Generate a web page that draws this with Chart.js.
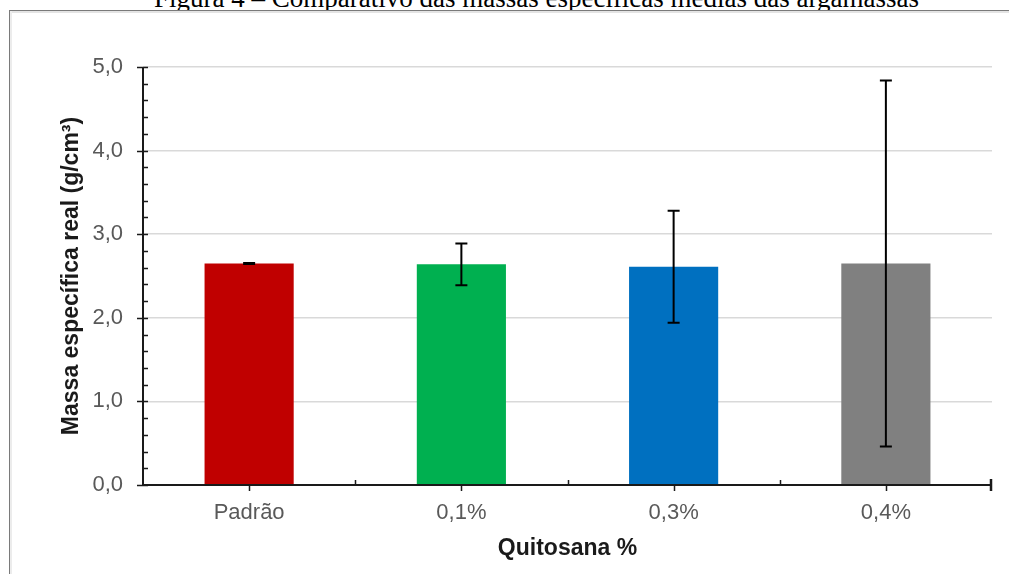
<!DOCTYPE html>
<html lang="pt">
<head>
<meta charset="utf-8">
<title>Massa específica real</title>
<script src="https://cdn.jsdelivr.net/npm/chart.js@4/dist/chart.umd.min.js"></script>
<style>
  html, body { margin: 0; padding: 0; background: #fff; overflow: hidden; }
  #wrap { position: relative; width: 1009px; height: 574px; overflow: hidden; }
  #caption {
    position: absolute; left: 64px; width: 945px; top: -17px;
    text-align: center; font-family: "Liberation Serif", "Times New Roman", serif;
    font-size: 27px; color: #000; white-space: nowrap; line-height: 30px;
  }
  #frameTop { position: absolute; left: 9px; top: 10px; width: 1000px; height: 1px; background: #7a7a7a; }
  #frameTopShade { position: absolute; left: 10px; top: 11px; width: 999px; height: 2px; background: #e4e4e4; }
  #frameLeft { position: absolute; left: 9px; top: 10px; width: 1px; height: 564px; background: #7a7a7a; }
  #frameLeftShade { position: absolute; left: 10px; top: 11px; width: 2px; height: 563px; background: #ececec; }
  #chartBox { position: absolute; left: 0; top: 0; width: 1009px; height: 574px; }
</style>
</head>
<body>
<div id="wrap">
  <div id="caption">Figura 4 – Comparativo das massas específicas médias das argamassas</div>
  <div id="frameTopShade"></div>
  <div id="frameLeftShade"></div>
  <div id="frameTop"></div>
  <div id="frameLeft"></div>
  <div id="chartBox"><canvas id="c"></canvas></div>
</div>
<script>
// Quitosana content of each mortar and its mean real specific mass (g/cm³)
const categories = ['Padrão', '0,1%', '0,3%', '0,4%'];
const meanDensity = [2.65, 2.64, 2.61, 2.65];
const densityError = [0.005, 0.25, 0.67, 2.19];
const barColors = ['#C00000', '#00B050', '#0070C0', '#808080'];
const yMin = 0, yMax = 5, yMajorStep = 1, yMinorStep = 0.2;

const fmt = v => v.toFixed(1).replace('.', ',');

// Error bars, axis lines and tick marks drawn from the chart's scales
const axisDecor = {
  id: 'axisDecor',
  afterDatasetsDraw(chart) {
    const {ctx, scales: {x, y}} = chart;
    const meta = chart.getDatasetMeta(0);
    ctx.save();
    // error bars
    ctx.strokeStyle = '#000';
    ctx.lineWidth = 2;
    meta.data.forEach((bar, i) => {
      const v = meanDensity[i], e = densityError[i];
      const yTop = y.getPixelForValue(v + e);
      const yBot = y.getPixelForValue(v - e);
      const cx = bar.x;
      ctx.beginPath();
      ctx.moveTo(cx, yTop); ctx.lineTo(cx, yBot);
      ctx.moveTo(cx - 6, yTop); ctx.lineTo(cx + 6, yTop);
      ctx.moveTo(cx - 6, yBot); ctx.lineTo(cx + 6, yBot);
      ctx.stroke();
    });
    // y axis line and ticks
    const ax = x.left;
    const y0 = y.getPixelForValue(yMin);
    const y1 = y.getPixelForValue(yMax);
    ctx.strokeStyle = '#1a1a1a';
    ctx.lineWidth = 2;
    ctx.beginPath();
    ctx.moveTo(ax, y0 + 1); ctx.lineTo(ax, y1);
    ctx.stroke();
    ctx.lineWidth = 1.5;
    ctx.beginPath();
    const nMinor = Math.round((yMax - yMin) / yMinorStep);
    for (let k = 0; k <= nMinor; k++) {
      const v = yMin + k * yMinorStep;
      const py = Math.round(y.getPixelForValue(v)) + 0.5;
      const isMajor = Math.abs(v / yMajorStep - Math.round(v / yMajorStep)) < 1e-6;
      ctx.moveTo(isMajor ? ax - 6 : ax, py);
      ctx.lineTo(ax + 5, py);
    }
    ctx.stroke();
    // x axis line and ticks
    const right = x.right;
    ctx.lineWidth = 2;
    ctx.beginPath();
    ctx.moveTo(ax, y0); ctx.lineTo(right, y0);
    ctx.stroke();
    ctx.lineWidth = 1.5;
    ctx.beginPath();
    const n = categories.length;
    for (let i = 0; i < n; i++) {
      const cx = Math.round(x.getPixelForValue(i)) + 0.5;
      ctx.moveTo(cx, y0); ctx.lineTo(cx, y0 + 6);
      const bx = Math.round(x.getPixelForValue(i + 0.5)) + 0.5;
      if (i < n - 1) {
        ctx.moveTo(bx, y0); ctx.lineTo(bx, y0 - 5);
      }
    }
    ctx.stroke();
    ctx.lineWidth = 2.5;
    ctx.beginPath();
    ctx.moveTo(right - 1, y0 - 6); ctx.lineTo(right - 1, y0 + 6);
    ctx.stroke();
    ctx.restore();
  }
};

new Chart(document.getElementById('c'), {
  type: 'bar',
  data: {
    labels: categories,
    datasets: [{
      data: meanDensity,
      backgroundColor: barColors,
      borderWidth: 0,
      categoryPercentage: 1,
      barPercentage: 0.42
    }]
  },
  options: {
    responsive: true,
    maintainAspectRatio: false,
    animation: false,
    events: [],
    layout: { padding: { left: 0, top: 67, right: 17, bottom: 0 } },
    plugins: { legend: { display: false }, tooltip: { enabled: false } },
    scales: {
      x: {
        grid: { display: false, drawTicks: false },
        border: { display: false },
        ticks: {
          padding: 15,
          color: '#595959',
          font: { family: '"Liberation Sans", Arial, sans-serif', size: 22 }
        },
        title: {
          display: true,
          text: 'Quitosana %',
          color: '#1a1a1a',
          font: { family: '"Liberation Sans", Arial, sans-serif', size: 23, weight: 'bold' },
          padding: { top: 0, bottom: 12 }
        },
        afterFit(scale) { scale.height = 89; }
      },
      y: {
        min: yMin,
        max: yMax,
        grid: {
          drawTicks: false,
          color: '#d9d9d9',
          lineWidth: 1.5
        },
        border: { display: false },
        ticks: {
          stepSize: yMajorStep,
          padding: 20,
          color: '#595959',
          font: { family: '"Liberation Sans", Arial, sans-serif', size: 22 },
          callback: v => fmt(v)
        },
        title: {
          display: true,
          text: 'Massa específica real (g/cm³)',
          color: '#1a1a1a',
          font: { family: '"Liberation Sans", Arial, sans-serif', size: 23, weight: 'bold' },
          padding: { top: 58, bottom: 0 }
        },
        afterFit(scale) { scale.width = 143; }
      }
    }
  },
  plugins: [axisDecor]
});
</script>
</body>
</html>
